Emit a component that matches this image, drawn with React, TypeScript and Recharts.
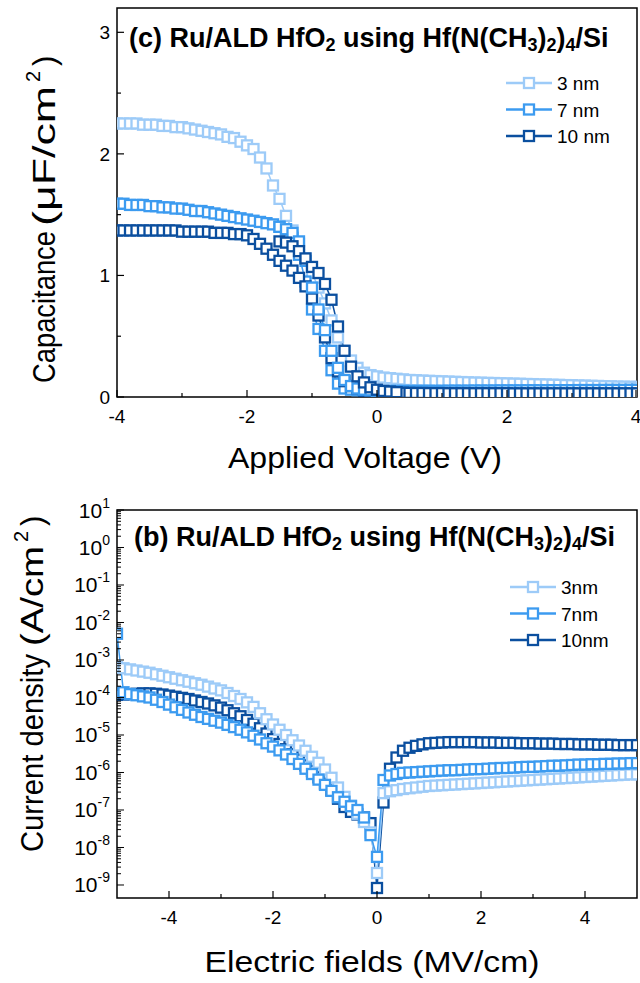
import React from "react";
import { LineChart, Line, XAxis, YAxis, ReferenceArea, Legend } from "recharts";

const FONT = "'Liberation Sans', Arial, sans-serif";
const INK = "#000";

// series styling shared by both panels
const colors = ["#9DCBF8", "#3C9BF0", "#0B4F9F"];
const cvNames = ["3 nm", "7 nm", "10 nm"];
const jvNames = ["3nm", "7nm", "10nm"];

// (c) C-V sweep, applied voltage in V
const volts = [
  -4, -3.9, -3.8, -3.7, -3.6, -3.5, -3.4, -3.3, -3.2, -3.1, -3, -2.9, -2.8, -2.7, -2.6, -2.5, -2.4, -2.3, -2.2, -2.1,
  -2, -1.9, -1.8, -1.7, -1.6, -1.5, -1.4, -1.3, -1.2, -1.1, -1, -0.9, -0.8, -0.7, -0.6, -0.5, -0.4, -0.3, -0.2, -0.1,
  0, 0.1, 0.2, 0.3, 0.4, 0.5, 0.6, 0.7, 0.8, 0.9, 1, 1.1, 1.2, 1.3, 1.4, 1.5, 1.6, 1.7, 1.8, 1.9,
  2, 2.1, 2.2, 2.3, 2.4, 2.5, 2.6, 2.7, 2.8, 2.9, 3, 3.1, 3.2, 3.3, 3.4, 3.5, 3.6, 3.7, 3.8, 3.9, 4,
];
const cap3 = [
  2.25, 2.25, 2.25, 2.25, 2.24, 2.24, 2.24, 2.23, 2.23, 2.22, 2.22,
  2.21, 2.2, 2.19, 2.18, 2.17, 2.16, 2.14, 2.13, 2.1, 2.07,
  2.04, 1.97, 1.88, 1.74, 1.63, 1.49, 1.37, 1.26, 1.14, 1.02,
  0.9, 0.77, 0.63, 0.49, 0.38, 0.3, 0.24, 0.2, 0.18, 0.17,
  0.16, 0.155, 0.15, 0.145, 0.14, 0.138, 0.135, 0.133, 0.131, 0.129,
  0.127, 0.125, 0.123, 0.121, 0.119, 0.118, 0.116, 0.115, 0.113, 0.112,
  0.11, 0.109, 0.107, 0.106, 0.104, 0.103, 0.101, 0.1, 0.098, 0.097,
  0.095, 0.094, 0.092, 0.091, 0.089, 0.088, 0.086, 0.085, 0.084, 0.083,
];
const cap7 = [
  1.59, 1.59, 1.58, 1.58, 1.58, 1.57, 1.57, 1.56, 1.56, 1.55, 1.55,
  1.54, 1.53, 1.53, 1.52, 1.51, 1.5, 1.49, 1.48, 1.47, 1.46,
  1.45, 1.44, 1.43, 1.42, 1.4, 1.38, 1.31, 1.17, 0.95, 0.72,
  0.56, 0.38, 0.22, 0.11, 0.07, 0.06, 0.055, 0.05, 0.05, 0.05,
  0.05, 0.05, 0.05, 0.05, 0.05, 0.05, 0.051, 0.051, 0.051, 0.051,
  0.052, 0.052, 0.052, 0.052, 0.053, 0.053, 0.053, 0.053, 0.054, 0.054,
  0.054, 0.054, 0.055, 0.055, 0.055, 0.055, 0.056, 0.056, 0.056, 0.056,
  0.057, 0.057, 0.057, 0.057, 0.058, 0.058, 0.058, 0.058, 0.059, 0.059,
];
const cap10 = [
  1.37, 1.37, 1.37, 1.37, 1.37, 1.37, 1.37, 1.37, 1.37, 1.37, 1.36,
  1.36, 1.36, 1.36, 1.36, 1.35, 1.35, 1.35, 1.34, 1.34, 1.33,
  1.3, 1.26, 1.22, 1.17, 1.12, 1.08, 1.04, 0.98, 0.91, 0.81,
  0.67, 0.49, 0.32, 0.21, 0.13, 0.09, 0.07, 0.05, 0.045, 0.04,
  0.04, 0.038, 0.036, 0.035, 0.034, 0.033, 0.033, 0.032, 0.032, 0.032,
  0.031, 0.031, 0.031, 0.031, 0.031, 0.031, 0.031, 0.031, 0.031, 0.031,
  0.03, 0.03, 0.03, 0.03, 0.03, 0.03, 0.03, 0.03, 0.03, 0.03,
  0.03, 0.03, 0.03, 0.03, 0.03, 0.03, 0.03, 0.03, 0.03, 0.03,
];
// return sweeps, only where they split from the forward sweep
const volts7Back = [-1.5, -1.4, -1.3, -1.2, -1.1, -1, -0.9, -0.8, -0.7, -0.6, -0.5, -0.4, -0.3, -0.2, -0.1, 0];
const cap7Back = [1.4, 1.38, 1.35, 1.28, 1.12, 0.9, 0.72, 0.55, 0.38, 0.24, 0.14, 0.09, 0.07, 0.06, 0.055, 0.05];
const volts10Back = [-1.5, -1.4, -1.3, -1.2, -1.1, -1, -0.9, -0.8, -0.7, -0.6, -0.5, -0.4, -0.3, -0.2, -0.1, 0, 0.1, 0.2, 0.3];
const cap10Back = [1.28, 1.27, 1.24, 1.2, 1.14, 1.07, 1.02, 0.93, 0.8, 0.58, 0.38, 0.25, 0.17, 0.12, 0.08, 0.06, 0.05, 0.045, 0.04];

// (b) J-E sweep, field in MV/cm, current density (powers of ten)
const fields = [
  -5, -4.875, -4.75, -4.625, -4.5, -4.375, -4.25, -4.125, -4, -3.875, -3.75, -3.625, -3.5, -3.375, -3.25, -3.125,
  -3, -2.875, -2.75, -2.625, -2.5, -2.375, -2.25, -2.125, -2, -1.875, -1.75, -1.625, -1.5, -1.375, -1.25, -1.125,
  -1, -0.875, -0.75, -0.625, -0.5, -0.375, -0.25, -0.125, 0,
  0.125, 0.25, 0.375, 0.5, 0.625, 0.75, 0.875, 1, 1.125, 1.25, 1.375, 1.5, 1.625, 1.75, 1.875, 2,
  2.125, 2.25, 2.375, 2.5, 2.625, 2.75, 2.875, 3, 3.125, 3.25, 3.375, 3.5, 3.625, 3.75, 3.875, 4,
  4.125, 4.25, 4.375, 4.5, 4.625, 4.75, 4.875, 5,
];
const jExp3 = [
  -3.19, -3.22, -3.25, -3.28, -3.31, -3.34, -3.38, -3.42,
  -3.46, -3.5, -3.54, -3.58, -3.62, -3.66, -3.71, -3.76,
  -3.81, -3.88, -3.96, -4.04, -4.13, -4.25, -4.42, -4.58,
  -4.72, -4.86, -5.0, -5.14, -5.28, -5.42, -5.58, -5.74,
  -5.92, -6.14, -6.4, -6.65, -6.88, -7.1, -7.32, -7.6,
  -8.68,
  -6.55, -6.5, -6.47, -6.44, -6.42, -6.4, -6.38, -6.36,
  -6.35, -6.34, -6.33, -6.32, -6.31, -6.3, -6.29, -6.28,
  -6.27, -6.26, -6.25, -6.24, -6.23, -6.22, -6.21, -6.2,
  -6.19, -6.18, -6.17, -6.16, -6.15, -6.14, -6.13, -6.12,
  -6.11, -6.1, -6.09, -6.08, -6.07, -6.06, -6.05, -6.05,
];
const jExp7 = [
  -2.3, -3.86, -3.91, -3.94, -3.97, -4.0, -4.06, -4.12,
  -4.19, -4.26, -4.33, -4.4, -4.46, -4.52, -4.57, -4.62,
  -4.67, -4.73, -4.79, -4.86, -4.93, -5.02, -5.12, -5.22,
  -5.31, -5.41, -5.52, -5.64, -5.77, -5.9, -6.04, -6.19,
  -6.33, -6.49, -6.66, -6.78, -6.9, -7.0, -7.2, -7.67,
  -8.25,
  -6.2, -6.08, -6.04, -6.01, -6.0, -5.99, -5.98, -5.97,
  -5.96, -5.95, -5.94, -5.94, -5.93, -5.92, -5.91, -5.91,
  -5.9, -5.89, -5.88, -5.88, -5.87, -5.86, -5.85, -5.85,
  -5.84, -5.83, -5.82, -5.82, -5.81, -5.8, -5.79, -5.79,
  -5.78, -5.78, -5.77, -5.77, -5.76, -5.76, -5.75, -5.75,
];
const jExp10 = [
  -3.93, -3.92, -3.91, -3.9, -3.89, -3.89, -3.9, -3.92,
  -3.95, -3.98, -4.01, -4.04, -4.08, -4.12, -4.16, -4.21,
  -4.27, -4.34, -4.42, -4.5, -4.6, -4.7, -4.82, -4.96,
  -5.11, -5.24, -5.38, -5.51, -5.66, -5.81, -5.96, -6.13,
  -6.3, -6.48, -6.7, -6.92, -7.05, -7.12, -7.2, -7.35,
  -9.08,
  -6.8, -5.9, -5.6, -5.42, -5.34, -5.29, -5.25, -5.22,
  -5.21, -5.2, -5.19, -5.19, -5.19, -5.19, -5.19, -5.2,
  -5.2, -5.2, -5.21, -5.21, -5.21, -5.22, -5.22, -5.22,
  -5.23, -5.23, -5.23, -5.24, -5.24, -5.24, -5.25, -5.25,
  -5.25, -5.26, -5.26, -5.26, -5.27, -5.27, -5.27, -5.27,
];

// axes
const cvXTicks = [-4, -3, -2, -1, 0, 1, 2, 3, 4];
const cvYTicks = [0, 0.5, 1, 1.5, 2, 2.5, 3];
const jvXTicks = [-4, -3, -2, -1, 0, 1, 2, 3, 4];
const decades = [-9, -8, -7, -6, -5, -4, -3, -2, -1, 0, 1];
const minorSteps = [1, 2, 3, 4, 5, 6, 7, 8, 9];
const J_MIN = 4.5e-10;
const J_MAX = 10;
const jvYTicks = decades
  .flatMap((d) => minorSteps.map((m) => m * Math.pow(10, d)))
  .filter((t) => t >= J_MIN && t <= J_MAX * 1.0001);

const cvRows = (xs: number[], ys: number[]) => xs.map((v, i) => ({ v, c: ys[i] }));
const jvRows = (xs: number[], exps: number[]) => xs.map((e, i) => ({ e, j: Math.pow(10, exps[i]) }));

const cvSeries = [cvRows(volts, cap3), cvRows(volts, cap7), cvRows(volts, cap10)];
const cv7Back = cvRows(volts7Back, cap7Back);
const cv10Back = cvRows(volts10Back, cap10Back);
const jvSeries = [jvRows(fields, jExp3), jvRows(fields, jExp7), jvRows(fields, jExp10)];

const square = (color: string) => (p: any) => {
  if (p.cx == null || p.cy == null) return <g key={p.index} />;
  return (
    <rect key={p.index} x={p.cx - 5} y={p.cy - 5} width={10} height={10} fill="#fff" stroke={color} strokeWidth={2.3} />
  );
};

const txt = { fontFamily: FONT, fill: INK } as const;

const LinearXTick = ({ x, y, payload }: any) => {
  const major = payload.value % 2 === 0;
  return (
    <g>
      <line x1={x} x2={x} y1={y} y2={y - (major ? 7 : 4)} stroke={INK} strokeWidth={1.2} />
      {major && (
        <text x={x} y={y + 26} textAnchor="middle" fontSize={19} {...txt}>
          {String(payload.value)}
        </text>
      )}
    </g>
  );
};

const CapYTick = ({ x, y, payload }: any) => {
  const major = Number.isInteger(payload.value);
  return (
    <g>
      <line x1={x} x2={x + (major ? 7 : 4)} y1={y} y2={y} stroke={INK} strokeWidth={1.2} />
      {major && (
        <text x={x - 7} y={y + 7} textAnchor="end" fontSize={19} {...txt}>
          {String(payload.value)}
        </text>
      )}
    </g>
  );
};

const LogYTick = ({ x, y, payload }: any) => {
  const lg = Math.log10(payload.value);
  const major = Math.abs(lg - Math.round(lg)) < 1e-6;
  return (
    <g>
      <line x1={x} x2={x + (major ? 7 : 4)} y1={y} y2={y} stroke={INK} strokeWidth={1} />
      {major && (
        <text x={x - 7} y={y + 7.5} textAnchor="end" fontSize={21} {...txt}>
          10
          <tspan dy={-10} fontSize={14}>
            {String(Math.round(lg))}
          </tspan>
        </text>
      )}
    </g>
  );
};

const legendBox = (names: string[]) => () => (
  <svg width={130} height={80} style={{ display: "block" }}>
    {names.map((n, i) => {
      const y = 13 + i * 26.5;
      return (
        <g key={n}>
          <line x1={4} x2={50} y1={y} y2={y} stroke={colors[i]} strokeWidth={2.6} />
          <rect x={22} y={y - 5} width={10} height={10} fill="#fff" stroke={colors[i]} strokeWidth={2.3} />
          <text x={55} y={y + 7} fontSize={19} {...txt}>
            {n}
          </text>
        </g>
      );
    })}
  </svg>
);

const Sub = ({ children }: any) => (
  <tspan fontSize={18} dy={4}>
    {children}
  </tspan>
);
const Back = ({ children }: any) => <tspan dy={-4}>{children}</tspan>;

const Title = ({ x, y, tag }: { x: number; y: number; tag: string }) => (
  <text x={x} y={y} fontSize={27} fontWeight="bold" {...txt}>
    {`(${tag}) Ru/ALD HfO`}
    <Sub>2</Sub>
    <Back>{" using Hf(N(CH"}</Back>
    <Sub>3</Sub>
    <Back>)</Back>
    <Sub>2</Sub>
    <Back>)</Back>
    <Sub>4</Sub>
    <Back>/Si</Back>
  </text>
);

// rotated y-axis title: main word, then the unit group (drawn wider in the original)
const YTitle = ({ bx, by, word, wordLen, unit, unitStart, unitLen }: any) => (
  <g transform={`translate(${bx},${by}) rotate(-90)`}>
    <text x={0} y={0} fontSize={31} textLength={wordLen} lengthAdjust="spacingAndGlyphs" {...txt}>
      {word}
    </text>
    <text x={unitStart} y={0} fontSize={31} textLength={unitLen} lengthAdjust="spacingAndGlyphs" {...txt}>
      {unit}
    </text>
    <text x={unitStart + unitLen + 4} y={-15} fontSize={20} {...txt}>
      2
    </text>
    <text x={unitStart + unitLen + 20} y={0} fontSize={31} {...txt}>
      )
    </text>
  </g>
);

export default function App() {
  return (
    <div style={{ position: "absolute", left: 0, top: 0, width: 640, height: 983, background: "#fff" }}>
      <div style={{ position: "absolute", left: 0, top: 0 }}>
        <LineChart width={640} height={480} margin={{ top: 8, right: 3, left: 57, bottom: 53 }}>
          <XAxis
            dataKey="v"
            type="number"
            domain={[-4, 4]}
            ticks={cvXTicks}
            allowDataOverflow
            axisLine={false}
            tickLine={false}
            tickSize={0}
            tickMargin={0}
            height={30}
            tick={<LinearXTick />}
          />
          <YAxis
            dataKey="c"
            type="number"
            domain={[0, 3.2]}
            ticks={cvYTicks}
            allowDataOverflow
            axisLine={false}
            tickLine={false}
            tickSize={0}
            tickMargin={0}
            width={60}
            tick={<CapYTick />}
          />
          <ReferenceArea x1={-4} x2={4} y1={0} y2={3.2} fill="none" stroke={INK} strokeWidth={1.5} />
          {cvSeries.map((d, i) => (
            <Line
              key={cvNames[i]}
              data={d}
              dataKey="c"
              name={cvNames[i]}
              stroke={colors[i]}
              strokeWidth={1.5}
              dot={square(colors[i])}
              activeDot={false}
              isAnimationActive={false}
            />
          ))}
          <Line data={cv7Back} dataKey="c" name="7 nm back" legendType="none" stroke={colors[1]} strokeWidth={1.5} dot={square(colors[1])} activeDot={false} isAnimationActive={false} />
          <Line data={cv10Back} dataKey="c" name="10 nm back" legendType="none" stroke={colors[2]} strokeWidth={1.5} dot={square(colors[2])} activeDot={false} isAnimationActive={false} />
          <Legend
            layout="vertical"
            align="center"
            verticalAlign="middle"
            content={legendBox(cvNames)}
            wrapperStyle={{ position: "absolute", left: 502, top: 70, width: 130, height: 80 }}
          />
        </LineChart>
      </div>

      <div style={{ position: "absolute", left: 0, top: 480 }}>
        <LineChart width={640} height={503} margin={{ top: 30, right: 3, left: 57, bottom: 55 }}>
          <XAxis
            dataKey="e"
            type="number"
            domain={[-5, 5]}
            ticks={jvXTicks}
            allowDataOverflow
            axisLine={false}
            tickLine={false}
            tickSize={0}
            tickMargin={0}
            height={30}
            tick={<LinearXTick />}
          />
          <YAxis
            dataKey="j"
            type="number"
            scale="log"
            domain={[J_MIN, J_MAX]}
            ticks={jvYTicks}
            allowDataOverflow
            axisLine={false}
            tickLine={false}
            tickSize={0}
            tickMargin={0}
            width={60}
            interval={0}
            tick={<LogYTick />}
          />
          <ReferenceArea x1={-5} x2={5} y1={J_MIN} y2={J_MAX} fill="none" stroke={INK} strokeWidth={1.5} />
          {[2, 0, 1].map((i) => (
            <Line
              key={jvNames[i]}
              data={jvSeries[i]}
              dataKey="j"
              name={jvNames[i]}
              stroke={colors[i]}
              strokeWidth={1.5}
              dot={square(colors[i])}
              activeDot={false}
              isAnimationActive={false}
            />
          ))}
          <Legend
            layout="vertical"
            align="center"
            verticalAlign="middle"
            content={legendBox(jvNames)}
            wrapperStyle={{ position: "absolute", left: 506, top: 94, width: 130, height: 80 }}
          />
        </LineChart>
      </div>

      <svg width={640} height={983} style={{ position: "absolute", left: 0, top: 0, pointerEvents: "none" }}>
        <Title x={129} y={47} tag="c" />
        <Title x={134} y={546} tag="b" />
        <text x={365} y={468} textAnchor="middle" fontSize={29} textLength={274} lengthAdjust="spacingAndGlyphs" {...txt}>
          Applied Voltage (V)
        </text>
        <text x={372} y={972} textAnchor="middle" fontSize={29} textLength={335} lengthAdjust="spacingAndGlyphs" {...txt}>
          Electric fields (MV/cm)
        </text>
        <YTitle bx={55} by={383} word="Capacitance" wordLen={152} unit="(μF/cm" unitStart={157} unitLen={140} />
        <YTitle bx={43} by={852} word="Current density" wordLen={198} unit="(A/cm" unitStart={206} unitLen={100} />
      </svg>
    </div>
  );
}
